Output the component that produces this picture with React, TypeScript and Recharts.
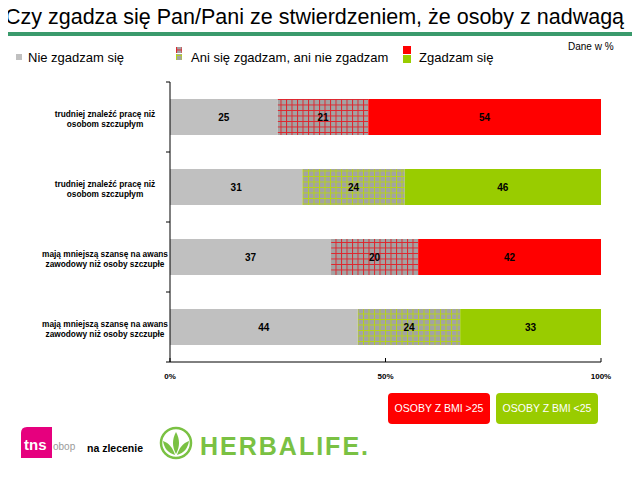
import { BarChart, Bar, XAxis, YAxis, Cell, LabelList } from "recharts";

// kategorie (dwie linie etykiety) i grupa BMI dla każdego wiersza
const categories = [
  ["trudniej znaleźć pracę niż", "osobom szczupłym"],
  ["trudniej znaleźć pracę niż", "osobom szczupłym"],
  ["mają mniejszą szansę na awans", "zawodowy niż osoby szczupłe"],
  ["mają mniejszą szansę na awans", "zawodowy niż osoby szczupłe"],
];
const groups = [">25", "<25", ">25", "<25"];

const disagree = [25, 31, 37, 44];
const neutral = [21, 24, 20, 24];
const agree = [54, 46, 42, 33];

const xTicks = [0, 0.5, 1];
const seriesNames = ["Nie zgadzam się", "Ani się zgadzam, ani nie zgadzam", "Zgadzam się"];
const groupLabels = ["OSOBY  Z BMI >25", "OSOBY  Z BMI <25"];

const FONT = "'Liberation Sans', Arial, sans-serif";
const GREY = "#C0C0C0";
const RED = "#FF0000";
const GREEN = "#99CC00";

const data = categories.map((c, i) => ({
  name: c.join("|"),
  group: groups[i],
  nie: disagree[i],
  ani: neutral[i],
  zg: agree[i],
}));

function CategoryTick(props: any) {
  const { x, y, payload, index } = props;
  const lines = String(payload.value).split("|");
  const cx = x - 65;
  return (
    <g>
      <line x1={x - 4} x2={x} y1={y - 35} y2={y - 35} stroke="#000" />
      {index === data.length - 1 && <line x1={x - 4} x2={x} y1={y + 35} y2={y + 35} stroke="#000" />}
      <text textAnchor="middle" fontFamily={FONT} fontSize={8.3} fontWeight="bold" fill="#000">
        <tspan x={cx} y={y}>{lines[0]}</tspan>
        <tspan x={cx} y={y + 9.5}>{lines[1]}</tspan>
      </text>
    </g>
  );
}

function PercentTick(props: any) {
  const { x, y, payload } = props;
  return (
    <g>
      <line x1={x} x2={x} y1={y - 4} y2={y} stroke="#000" />
      <text x={x} y={y + 17} textAnchor="middle" fontFamily={FONT} fontSize={8} fontWeight="bold" fill="#000">
        {`${Math.round(payload.value * 100)}%`}
      </text>
    </g>
  );
}

const labelStyle = { fill: "#000", fontSize: 10, fontWeight: "bold" as const, fontFamily: FONT };

export default function App() {
  return (
    <div style={{ position: "relative", width: 640, height: 478, margin: -8, background: "#fff", overflow: "hidden", fontFamily: FONT }}>
      <div style={{ position: "absolute", left: 0, top: 0 }}>
        <BarChart
          width={640}
          height={400}
          data={data}
          layout="vertical"
          stackOffset="expand"
          barSize={36}
          margin={{ top: 82, right: 39, left: 10, bottom: 8 }}
        >
          <defs>
            <pattern id="hatchRed" width="5.5" height="5.5" patternUnits="userSpaceOnUse">
              <rect width="5.5" height="5.5" fill="#A3A3A3" />
              <path d="M0 0.5H5.5M0.5 0V5.5" stroke="#E0242C" strokeWidth="1" />
            </pattern>
            <pattern id="hatchGreen" width="5.5" height="5.5" patternUnits="userSpaceOnUse">
              <rect width="5.5" height="5.5" fill="#A3A3A3" />
              <path d="M0 0.5H5.5M0.5 0V5.5" stroke="#B5D31A" strokeWidth="1" />
            </pattern>
          </defs>
          <XAxis
            type="number"
            domain={[0, 1]}
            ticks={xTicks}
            tick={<PercentTick />}
            tickLine={false}
            tickSize={0}
            tickMargin={0}
            axisLine={{ stroke: "#000" }}
            height={30}
          />
          <YAxis
            type="category"
            dataKey="name"
            width={160}
            tick={<CategoryTick />}
            tickLine={false}
            tickSize={0}
            tickMargin={0}
            axisLine={{ stroke: "#000" }}
            interval={0}
          />
          <Bar dataKey="nie" name={seriesNames[0]} stackId="s" fill={GREY} isAnimationActive={false}>
            <LabelList dataKey="nie" position="center" {...labelStyle} />
          </Bar>
          <Bar dataKey="ani" name={seriesNames[1]} stackId="s" isAnimationActive={false}>
            {data.map((d, i) => (
              <Cell key={i} fill={d.group === ">25" ? "url(#hatchRed)" : "url(#hatchGreen)"} />
            ))}
            <LabelList dataKey="ani" position="center" {...labelStyle} />
          </Bar>
          <Bar dataKey="zg" name={seriesNames[2]} stackId="s" isAnimationActive={false}>
            {data.map((d, i) => (
              <Cell key={i} fill={d.group === ">25" ? RED : GREEN} />
            ))}
            <LabelList dataKey="zg" position="center" {...labelStyle} />
          </Bar>
        </BarChart>
      </div>

      <svg width={640} height={478} style={{ position: "absolute", left: 0, top: 0, pointerEvents: "none" }}>
        <text x={5} y={24} fontFamily={FONT} fontSize={21.5} fill="#000">
          Czy zgadza się Pan/Pani ze stwierdzeniem, że osoby z nadwagą
        </text>
        <rect x={8} y={32} width={632} height={4} fill="#3A9A6C" />
        <text x={568} y={50} fontFamily={FONT} fontSize={10} fill="#000">Dane w %</text>

        {/* legenda */}
        <rect x={16} y={54} width={6} height={6} fill={GREY} />
        <text x={28} y={62} fontFamily={FONT} fontSize={13} fill="#000">{seriesNames[0]}</text>
        <rect x={176} y={47} width={6} height={6} fill="url(#hatchRed)" />
        <rect x={176} y={54} width={6} height={6} fill="url(#hatchGreen)" />
        <text x={191} y={62} fontFamily={FONT} fontSize={13} fill="#000">{seriesNames[1]}</text>
        <rect x={403} y={46} width={8} height={8} fill={RED} />
        <rect x={403} y={55} width={8} height={8} fill={GREEN} />
        <text x={419} y={62} fontFamily={FONT} fontSize={13} fill="#000">{seriesNames[2]}</text>

        {/* grupy BMI */}
        <rect x={388} y={393} width={102} height={31} rx={4} fill={RED} />
        <text x={439} y={412} textAnchor="middle" fontFamily={FONT} fontSize={10.5} fill="#fff">{groupLabels[0]}</text>
        <rect x={496} y={393} width={102} height={31} rx={4} fill={GREEN} />
        <text x={547} y={412} textAnchor="middle" fontFamily={FONT} fontSize={10.5} fill="#fff">{groupLabels[1]}</text>

        {/* stopka */}
        <path d="M27 427 H52 V458 H21 V433 Q21 427 27 427 Z" fill="#E6007E" />
        <text x={24} y={450} fontFamily={FONT} fontSize={15} fontWeight="bold" fill="#fff">tns</text>
        <text x={53} y={450} fontFamily={FONT} fontSize={10} fill="#9A9A9A">obop</text>
        <text x={87} y={452} fontFamily={FONT} fontSize={10.5} fontWeight="bold" fill="#000">na zlecenie</text>

        <circle cx={176} cy={443} r={15} fill="none" stroke="#7AC143" strokeWidth={2.5} />
        <path d="M176 454 C172 447 172 439 176 432 C180 439 180 447 176 454 Z" fill="#7AC143" />
        <path d="M175 455 C168 453 164 448 163 441 C169 443 173 448 175 455 Z" fill="#7AC143" />
        <path d="M177 455 C184 453 188 448 189 441 C183 443 179 448 177 455 Z" fill="#7AC143" />
        <text x={200} y={455} fontFamily={FONT} fontSize={25} fontWeight="bold" letterSpacing={2} fill="#7AC143">
          HERBALIFE.
        </text>
      </svg>
    </div>
  );
}
